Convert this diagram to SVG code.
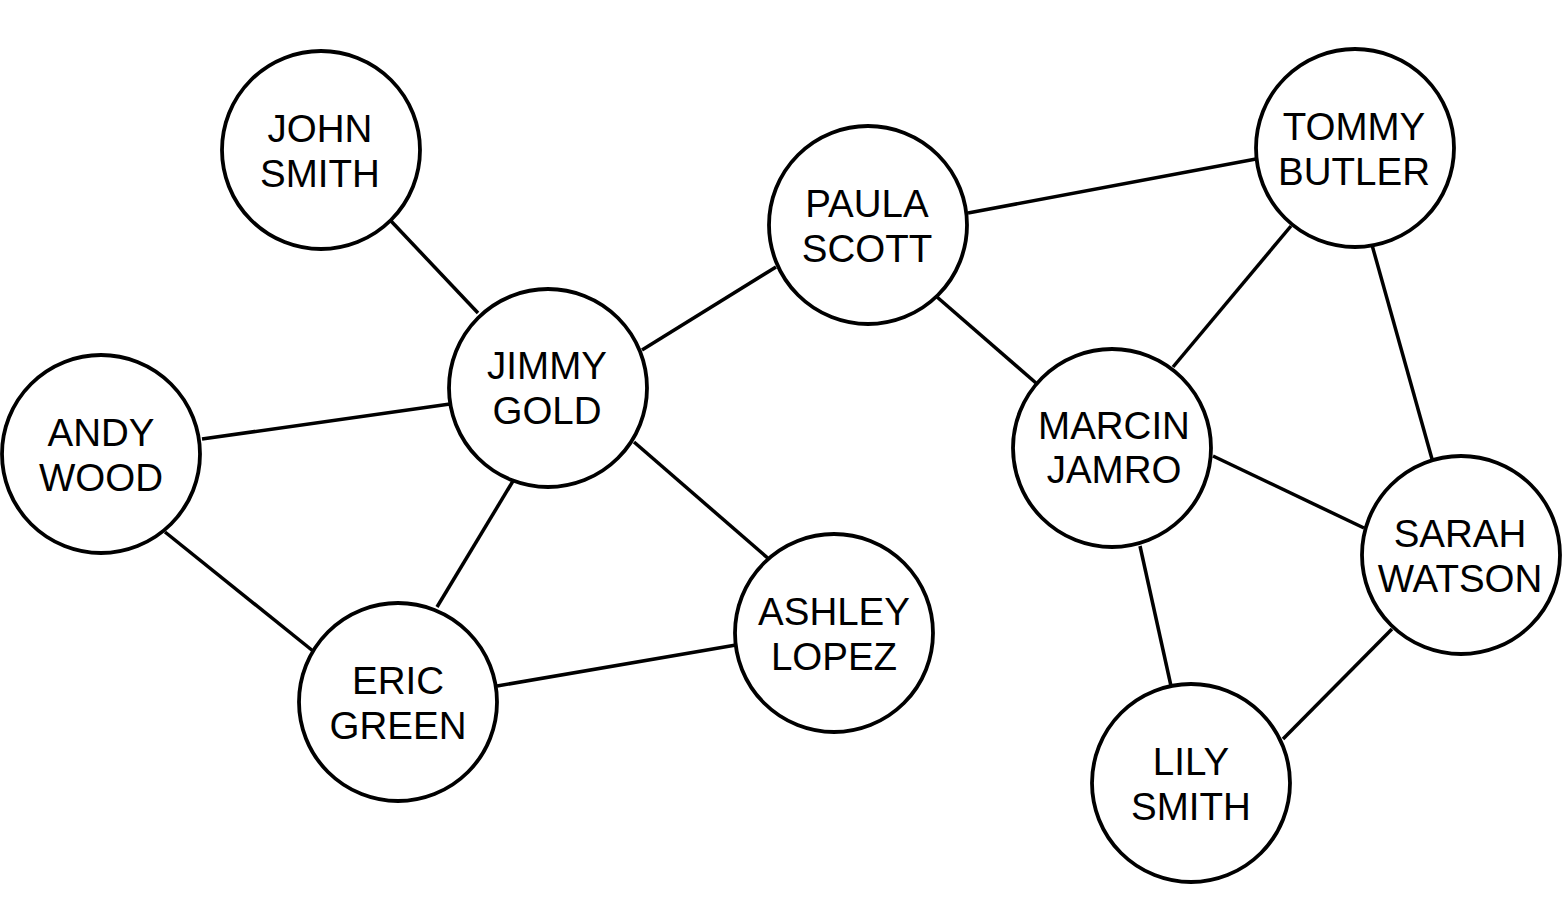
<svg xmlns="http://www.w3.org/2000/svg" width="1563" height="923" viewBox="0 0 1563 923">
<style>
.e{stroke:#000;stroke-width:3.5;fill:none}
.n circle{fill:#fff;stroke:#000;stroke-width:3.8}
.n text{font-family:"Liberation Sans",Arial,sans-serif;font-size:38.5px;fill:#000;text-anchor:middle}
</style>
<rect width="1563" height="923" fill="#fff"/>
<g id="connectors">
<line class="e" x1="391" y1="221" x2="478" y2="313"/>
<line class="e" x1="642" y1="350" x2="776" y2="267"/>
<line class="e" x1="202" y1="439" x2="450" y2="404"/>
<line class="e" x1="513" y1="481" x2="437" y2="607"/>
<line class="e" x1="634" y1="442" x2="770" y2="560"/>
<line class="e" x1="165" y1="532" x2="313" y2="651"/>
<line class="e" x1="497" y1="686" x2="736" y2="645"/>
<line class="e" x1="968" y1="213" x2="1256" y2="159"/>
<line class="e" x1="937" y1="297" x2="1036" y2="383"/>
<line class="e" x1="1291" y1="226" x2="1173" y2="367"/>
<line class="e" x1="1372" y1="245" x2="1432" y2="459"/>
<line class="e" x1="1213" y1="456" x2="1364" y2="528"/>
<line class="e" x1="1140" y1="546" x2="1171" y2="686"/>
<line class="e" x1="1392" y1="629" x2="1283" y2="739"/>
</g>
<g id="john" class="n"><circle cx="321" cy="150" r="99"/><text x="320" y="142">JOHN</text><text x="320" y="187">SMITH</text></g>
<g id="paula" class="n"><circle cx="868" cy="225" r="99"/><text x="867" y="217">PAULA</text><text x="867" y="262">SCOTT</text></g>
<g id="tommy" class="n"><circle cx="1355" cy="148" r="99"/><text x="1354" y="140">TOMMY</text><text x="1354" y="185">BUTLER</text></g>
<g id="jimmy" class="n"><circle cx="548" cy="388" r="99"/><text x="547" y="379">JIMMY</text><text x="547" y="424">GOLD</text></g>
<g id="andy" class="n"><circle cx="101" cy="454" r="99"/><text x="101" y="446">ANDY</text><text x="101" y="491">WOOD</text></g>
<g id="marcin" class="n"><circle cx="1112" cy="448" r="99"/><text x="1114" y="439">MARCIN</text><text x="1114" y="483">JAMRO</text></g>
<g id="sarah" class="n"><circle cx="1461" cy="555" r="99"/><text x="1460" y="547">SARAH</text><text x="1460" y="592">WATSON</text></g>
<g id="ashley" class="n"><circle cx="834" cy="633" r="99"/><text x="834" y="625">ASHLEY</text><text x="834" y="670">LOPEZ</text></g>
<g id="eric" class="n"><circle cx="398" cy="702" r="99"/><text x="398" y="694">ERIC</text><text x="398" y="739">GREEN</text></g>
<g id="lily" class="n"><circle cx="1191" cy="783" r="99"/><text x="1191" y="775">LILY</text><text x="1191" y="820">SMITH</text></g>
</svg>
